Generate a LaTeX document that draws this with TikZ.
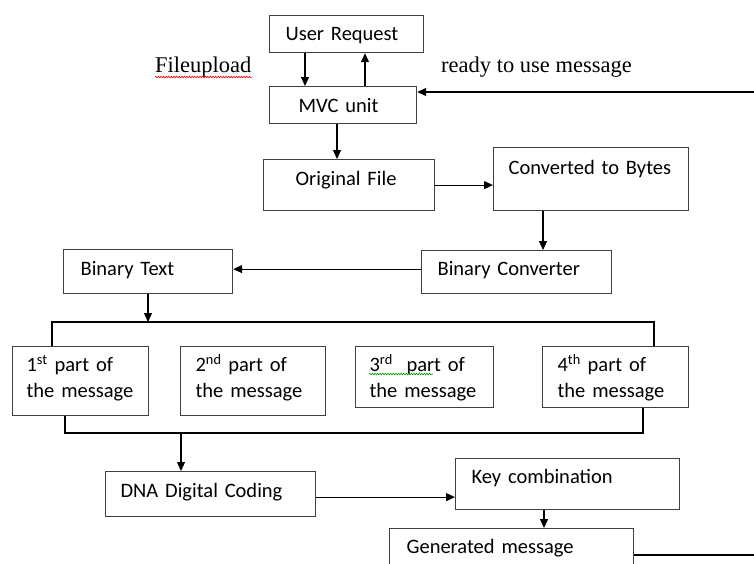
\documentclass[tikz,border=0pt]{standalone}
\usepackage{fontspec}
\setmainfont{Liberation Serif}
\newfontfamily\calfont{Carlito}
\usetikzlibrary{arrows.meta,calc,positioning,decorations.pathmorphing}
\newcommand\boxfont{\calfont\fontsize{20.5}{26}\selectfont}
\tikzset{
  blk/.style={draw=black!75,line width=1.2pt,anchor=north west,inner ysep=0pt,align=left,font=\boxfont},
  arr/.style={-{Triangle[length=9pt,width=8pt]},line width=1.2pt},
  lnk/.style={line width=1.2pt},
  note/.style={anchor=base west,inner sep=0pt,font=\fontsize{22.5}{26}\selectfont},
  squig/.style={line width=0.6pt,decorate,decoration={snake,amplitude=0.8pt,segment length=2.6pt}}
}
\begin{document}
\begin{tikzpicture}[x=1pt,y=-1pt]
    \useasboundingbox (0,0) rectangle (754,563);
    \clip (0,0) rectangle (754,563);
    % boxes
    \node[blk,inner xsep=16pt,text width=122pt,text height=25pt,text depth=12pt] (ureq) at (269,15) {User Request};
    \node[blk,inner xsep=29pt,text width=89pt,text height=26pt,text depth=11pt] (mvc) at (269,86) {MVC unit};
    \node[blk,inner xsep=32pt,text width=107pt,text height=26pt,text depth=25pt] (orig) at (263,159) {Original File};
    \node[blk,inner xsep=15pt,text width=165pt,text height=27pt,text depth=36pt] (bytes) at (493,147) {Converted to Bytes};
    \node[blk,inner xsep=16pt,text width=158pt,text height=25pt,text depth=18pt] (bconv) at (421,250) {Binary Converter};
    \node[blk,inner xsep=17pt,text width=135pt,text height=26pt,text depth=18pt] (btext) at (63,249) {Binary Text};
    \node[blk,inner xsep=14pt,text width=108pt,text height=25pt,text depth=44pt] (part1) at (12,346) {1\textsuperscript{st} part of\\the message};
    \node[blk,inner xsep=15pt,text width=115pt,text height=25pt,text depth=44pt] (part2) at (180,346) {2\textsuperscript{nd} part of\\the message};
    \node[blk,inner xsep=14pt,text width=110pt,text height=25pt,text depth=36pt] (part3) at (355,346) {3\textsuperscript{rd}\ \ part of\\the message};
    \node[blk,inner xsep=15pt,text width=116pt,text height=25pt,text depth=36pt] (part4) at (542,346) {4\textsuperscript{th} part of\\the message};
    \node[blk,inner xsep=15pt,text width=180pt,text height=26pt,text depth=19pt] (dna) at (105,471) {DNA Digital Coding};
    \node[blk,inner xsep=16pt,text width=192pt,text height=25pt,text depth=26pt] (keyc) at (455,458) {Key combination};
    \node[blk,inner xsep=17pt,text width=210pt,text height=25pt,text depth=30pt] (genm) at (389,528) {Generated message};
    % labels
    \node[note] (fup) at (155,72) {Fileupload};
    \node[note] (ready) at (441,72) {ready to use message};
    \draw[squig,red] ([yshift=-5pt]fup.base west) -- ([yshift=-5pt]fup.base east);
    \draw[squig,green!60!black] ([xshift=14pt,yshift=-28pt]part3.north west) -- ++(64,0);
    % free ends and bars
    \coordinate (rin) at (754,92);
    \coordinate (rout) at (754,555);
    \coordinate (tl) at (52,322);
    \coordinate (tr) at (654,322);
    \coordinate (bl) at (65,433);
    \coordinate (br) at (643,433);
    \coordinate (bd) at (181,433);
    % connectors
    \draw[arr] ([xshift=36pt]ureq.south west) -- ([xshift=36pt]mvc.north west);
    \draw[arr] ([xshift=96pt]mvc.north west) -- ([xshift=96pt]ureq.south west);
    \draw[arr] (rin) -- (rin -| mvc.east);
    \draw[arr] ([xshift=68pt]mvc.south west) -- ([xshift=68pt]mvc.south west |- orig.north);
    \draw[arr] (orig.east) -- (orig.east -| bytes.west);
    \draw[arr] ([xshift=50pt]bytes.south west) -- ([xshift=50pt]bytes.south west |- bconv.north);
    \draw[arr] ([yshift=3pt]bconv.west) -- ([yshift=3pt]bconv.west -| btext.east);
    \draw[arr] ([xshift=85pt]btext.south west) -- ([xshift=85pt]btext.south west |- tl);
    \draw[lnk] (tl |- part1.north) -- (tl) -- (tr) -- (tr |- part4.north);
    \draw[lnk] (bl |- part1.south) -- (bl) -- (br) -- (br |- part4.south);
    \draw[arr] (bd) -- (bd |- dna.north);
    \draw[arr] ([yshift=-3pt]dna.east) -- ([yshift=-3pt]dna.east -| keyc.west);
    \draw[arr] ([xshift=89pt]keyc.south west) -- ([xshift=89pt]keyc.south west |- genm.north);
    \draw[lnk] (rout -| genm.east) -- (rout);
  \end{tikzpicture}
\end{document}
